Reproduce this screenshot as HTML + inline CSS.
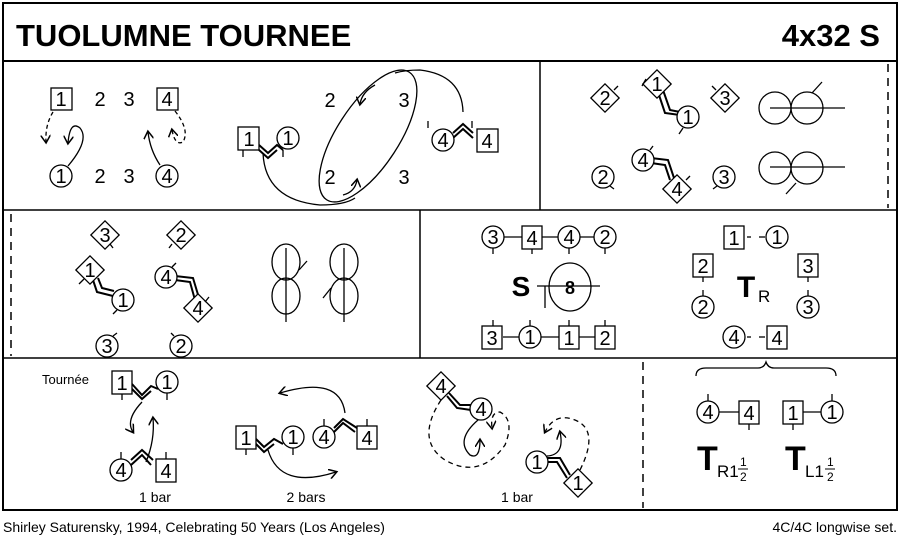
<!DOCTYPE html>
<html><head><meta charset="utf-8"><style>
body{margin:0;background:#fff}
svg{display:block;font-family:"Liberation Sans",sans-serif}
</style></head><body>
<svg width="900" height="542" viewBox="0 0 900 542" xmlns="http://www.w3.org/2000/svg">
<defs>
<marker id="ah" markerWidth="10" markerHeight="10" refX="7" refY="5" orient="auto" markerUnits="userSpaceOnUse"><path d="M0,0 L8,5 L0,10" fill="none" stroke="#000" stroke-width="1.5"/></marker>
</defs>
<g fill="none" stroke="#000" stroke-width="1.5">
<rect x="3" y="3" width="894" height="507" stroke-width="2"/>
<line x1="3" y1="61" x2="897" y2="61" stroke-width="2"/>
<line x1="3" y1="210" x2="897" y2="210"/>
<line x1="3" y1="358" x2="897" y2="358"/>
<line x1="540" y1="61" x2="540" y2="210"/>
<line x1="888" y1="64" x2="888" y2="208" stroke-dasharray="8,6"/>
<line x1="11" y1="214" x2="11" y2="356" stroke-dasharray="8,6"/>
<line x1="420" y1="210" x2="420" y2="358"/>
<line x1="643" y1="362" x2="643" y2="508" stroke-dasharray="8,6"/>
</g>
<text x="16" y="46" font-size="31" font-weight="bold">TUOLUMNE TOURNEE</text>
<text x="880" y="46" font-size="31" font-weight="bold" text-anchor="end">4x32 S</text>

<g fill="none" stroke="#000" stroke-width="1.3">
<!-- row1 connectors under shapes -->
<path d="M259 145 L268 153 L277 145 L283 150 M259 150 L268 158 L277 150" stroke-width="2"/>
<path d="M453 133 L463 124 L473 133 M453 138 L463 129 L473 138" stroke-width="2"/>
<path d="M658 92 L665 113 L680 115 M663 90 L670 110 L680 112" stroke-width="2"/>
<path d="M651 163 L665 165 L670 180 M651 158 L668 160 L674 178" stroke-width="2"/>
<path d="M93 280 L97 292 L113 296 M98 278 L102 288 L114 291" stroke-width="2"/>
<path d="M175 280 L190 282 L195 300 M175 276 L193 278 L199 298" stroke-width="2"/>
<path d="M132 384 L142 395 L151 386 L158 389 M132 389 L142 399 L151 391" stroke-width="2"/>
<path d="M131 465 L142 455 L151 465 M131 460 L142 450 L153 460" stroke-width="2"/>
<path d="M256 439 L264 447 L274 439 L283 444 M256 444 L264 452 L274 444" stroke-width="2"/>
<path d="M334 432 L343 423 L355 432 M334 428 L343 419 L357 428" stroke-width="2"/>
<path d="M447 396 L457 408 L471 410 M449 393 L460 405 L471 405" stroke-width="2"/>
<path d="M547 458 L560 458 L570 475 M547 462 L557 462 L567 478" stroke-width="2"/>
<line x1="503" y1="237" x2="595" y2="237"/>
<line x1="503" y1="337" x2="595" y2="337"/>
<line x1="718" y1="412" x2="739" y2="412"/><line x1="803" y1="412" x2="822" y2="412"/>
</g>
<g fill="#fff" stroke="#000" stroke-width="1.3">
<rect x="51" y="88" width="21" height="22"/><rect x="157" y="88" width="21" height="22"/>
<circle cx="61" cy="176" r="11"/><circle cx="167" cy="176" r="11"/>
<rect x="238" y="127" width="21" height="23"/><circle cx="288" cy="138" r="11"/>
<circle cx="443" cy="140" r="11"/><rect x="477" y="129" width="21" height="23"/>
<rect x="595" y="88" width="20" height="20" transform="rotate(45 605 98)"/>
<rect x="647" y="74" width="20" height="20" transform="rotate(45 657 84)"/>
<circle cx="688" cy="117" r="11"/>
<rect x="715" y="88" width="20" height="20" transform="rotate(45 725 98)"/>
<circle cx="603" cy="177" r="11"/><circle cx="643" cy="160" r="11"/>
<rect x="667" y="179" width="20" height="20" transform="rotate(45 677 189)"/>
<circle cx="724" cy="177" r="11"/>
<rect x="95" y="225" width="20" height="20" transform="rotate(45 105 235)"/>
<rect x="171" y="225" width="20" height="20" transform="rotate(45 181 235)"/>
<rect x="80" y="260" width="20" height="20" transform="rotate(45 90 270)"/>
<circle cx="123" cy="300" r="11"/><circle cx="166" cy="277" r="11"/>
<rect x="188" y="298" width="20" height="20" transform="rotate(45 198 308)"/>
<circle cx="107" cy="346" r="11"/><circle cx="181" cy="346" r="11"/>
<circle cx="493" cy="237" r="11"/><rect x="522" y="226" width="20" height="23"/><circle cx="569" cy="237" r="11"/><circle cx="605" cy="237" r="11"/>
<rect x="482" y="326" width="20" height="23"/><circle cx="530" cy="337" r="11"/><rect x="559" y="326" width="20" height="23"/><rect x="595" y="326" width="20" height="23"/>
<rect x="724" y="226" width="20" height="23"/><circle cx="777" cy="237" r="11"/>
<rect x="693" y="254" width="20" height="23"/><circle cx="703" cy="307" r="11"/>
<rect x="798" y="254" width="20" height="23"/><circle cx="808" cy="307" r="11"/>
<circle cx="734" cy="337" r="11"/><rect x="767" y="326" width="20" height="23"/>
<rect x="112" y="371" width="20" height="23"/><circle cx="167" cy="382" r="11"/>
<circle cx="121" cy="470" r="11"/><rect x="156" y="459" width="20" height="23"/>
<rect x="236" y="426" width="20" height="23"/><circle cx="293" cy="437" r="11"/>
<circle cx="324" cy="437" r="11"/><rect x="357" y="426" width="20" height="23"/>
<rect x="431" y="376" width="20" height="20" transform="rotate(45 441 386)"/>
<circle cx="481" cy="409" r="11"/><circle cx="537" cy="462" r="11"/>
<rect x="568" y="473" width="20" height="20" transform="rotate(45 578 483)"/>
<circle cx="708" cy="412" r="11"/><rect x="739" y="401" width="20" height="23"/>
<rect x="783" y="401" width="20" height="23"/><circle cx="832" cy="412" r="11"/>
</g>
<g fill="none" stroke="#000" stroke-width="1.3">
<path d="M53 112 Q45 125 46 142" stroke-dasharray="4,3" marker-end="url(#ah)"/>
<path d="M68 166 Q90 140 80 128 Q70 120 68 143" marker-end="url(#ah)"/>
<path d="M160 165 Q150 150 148 132" marker-end="url(#ah)"/>
<path d="M175 111 Q190 130 183 142 Q175 146 172 130" stroke-dasharray="4,3" marker-end="url(#ah)"/>
<line x1="243" y1="150" x2="243" y2="157"/><line x1="283" y1="150" x2="283" y2="157"/>
<line x1="428" y1="121" x2="428" y2="128"/><line x1="472" y1="121" x2="472" y2="128"/>
<ellipse cx="368" cy="136" rx="76" ry="31" transform="rotate(-57 368 136)"/>
<path d="M375 85 Q362 92 360 104" marker-end="url(#ah)"/>
<path d="M343 195 Q355 192 357 180" marker-end="url(#ah)"/>
<path d="M263 153 Q265 200 320 205 Q345 205 355 198"/>
<path d="M463 112 Q462 75 420 70 Q405 70 395 73"/>
<line x1="646" y1="79" x2="642" y2="86"/><line x1="683" y1="128" x2="679" y2="134"/>
<line x1="614" y1="90" x2="618" y2="86"/><line x1="716" y1="90" x2="712" y2="86"/>
<line x1="650" y1="150" x2="653" y2="146"/><line x1="686" y1="180" x2="690" y2="176"/>
<line x1="610" y1="186" x2="614" y2="189"/><line x1="717" y1="186" x2="713" y2="189"/>
<circle cx="775" cy="108" r="16"/><circle cx="807" cy="108" r="16"/><line x1="770" y1="108" x2="845" y2="108"/><line x1="812" y1="93" x2="822" y2="82"/>
<circle cx="775" cy="168" r="16"/><circle cx="807" cy="168" r="16"/><line x1="770" y1="167" x2="845" y2="167"/><line x1="796" y1="183" x2="786" y2="194"/>
<line x1="110" y1="244" x2="113" y2="248"/><line x1="172" y1="244" x2="169" y2="248"/>
<line x1="84" y1="279" x2="79" y2="284"/><line x1="117" y1="310" x2="113" y2="314"/>
<line x1="172" y1="267" x2="176" y2="263"/><line x1="205" y1="302" x2="209" y2="297"/>
<line x1="113" y1="336" x2="117" y2="333"/><line x1="174" y1="336" x2="171" y2="333"/>
<ellipse cx="286" cy="262" rx="14" ry="18"/><ellipse cx="286" cy="296" rx="14" ry="18"/><line x1="286" y1="248" x2="286" y2="322"/><line x1="299" y1="270" x2="307" y2="261"/>
<ellipse cx="344" cy="262" rx="14" ry="18"/><ellipse cx="344" cy="296" rx="14" ry="18"/><line x1="344" y1="248" x2="344" y2="322"/><line x1="331" y1="288" x2="323" y2="298"/>
<line x1="493" y1="248" x2="493" y2="254"/><line x1="532" y1="249" x2="532" y2="254"/><line x1="569" y1="248" x2="569" y2="254"/><line x1="605" y1="248" x2="605" y2="254"/>
<line x1="493" y1="320" x2="493" y2="326"/><line x1="530" y1="320" x2="530" y2="326"/><line x1="569" y1="320" x2="569" y2="326"/><line x1="605" y1="320" x2="605" y2="326"/>
<ellipse cx="570" cy="287" rx="21" ry="24"/><line x1="537" y1="286" x2="600" y2="286"/><line x1="545" y1="286" x2="545" y2="308"/>
<line x1="747" y1="237" x2="751" y2="237"/><line x1="759" y1="237" x2="765" y2="237"/>
<line x1="747" y1="337" x2="751" y2="337"/><line x1="759" y1="337" x2="765" y2="337"/>
<line x1="703" y1="277" x2="703" y2="282"/><line x1="703" y1="290" x2="703" y2="296"/>
<line x1="808" y1="277" x2="808" y2="282"/><line x1="808" y1="290" x2="808" y2="296"/>
<line x1="122" y1="394" x2="122" y2="400"/><line x1="167" y1="393" x2="167" y2="400"/>
<path d="M142 402 Q125 420 133 432" marker-end="url(#ah)"/>
<path d="M146 462 Q155 440 153 418" marker-end="url(#ah)"/>
<line x1="121" y1="452" x2="121" y2="459"/><line x1="166" y1="452" x2="166" y2="459"/>
<line x1="246" y1="449" x2="246" y2="455"/><line x1="293" y1="448" x2="293" y2="455"/>
<line x1="324" y1="419" x2="324" y2="426"/><line x1="367" y1="419" x2="367" y2="426"/>
<path d="M345 413 Q340 375 280 393" marker-end="url(#ah)"/>
<path d="M268 450 Q280 490 336 472" marker-end="url(#ah)"/>
<path d="M441 400 Q415 440 445 460 Q480 480 505 445 Q515 420 500 412 Q490 412 492 428" stroke-dasharray="5,4" marker-end="url(#ah)"/>
<path d="M478 420 Q455 440 470 455 Q480 460 480 440" marker-end="url(#ah)"/>
<path d="M580 470 Q600 430 575 420 Q555 412 545 432" stroke-dasharray="5,4" marker-end="url(#ah)"/>
<path d="M547 456 Q565 455 560 432" marker-end="url(#ah)"/>
<path d="M696 376 Q696 368 706 368 L758 368 Q764 368 766 362 Q768 368 774 368 L826 368 Q836 368 836 376"/>
<line x1="708" y1="394" x2="708" y2="401"/><line x1="749" y1="424" x2="749" y2="430"/><line x1="793" y1="424" x2="793" y2="430"/><line x1="832" y1="394" x2="832" y2="401"/>
</g>
<g font-size="20" text-anchor="middle">
<text x="61" y="106">1</text><text x="100" y="106">2</text><text x="129" y="106">3</text><text x="167" y="106">4</text>
<text x="61" y="183">1</text><text x="100" y="183">2</text><text x="129" y="183">3</text><text x="167" y="183">4</text>
<text x="249" y="146">1</text><text x="288" y="145">1</text><text x="443" y="147">4</text><text x="487" y="148">4</text>
<text x="330" y="107">2</text><text x="404" y="107">3</text><text x="330" y="184">2</text><text x="404" y="184">3</text>
<text x="605" y="105">2</text><text x="657" y="91">1</text><text x="688" y="124">1</text><text x="725" y="105">3</text>
<text x="603" y="184">2</text><text x="643" y="167">4</text><text x="677" y="196">4</text><text x="724" y="184">3</text>
<text x="105" y="242">3</text><text x="181" y="242">2</text><text x="90" y="277">1</text><text x="123" y="307">1</text>
<text x="166" y="284">4</text><text x="198" y="315">4</text><text x="107" y="353">3</text><text x="181" y="353">2</text>
<text x="493" y="244">3</text><text x="532" y="245">4</text><text x="569" y="244">4</text><text x="605" y="244">2</text>
<text x="492" y="345">3</text><text x="530" y="344">1</text><text x="569" y="345">1</text><text x="605" y="345">2</text>
<text x="734" y="245">1</text><text x="777" y="244">1</text><text x="703" y="273">2</text><text x="703" y="314">2</text>
<text x="808" y="273">3</text><text x="808" y="314">3</text><text x="734" y="344">4</text><text x="777" y="345">4</text>
<text x="122" y="390">1</text><text x="167" y="389">1</text><text x="121" y="477">4</text><text x="166" y="478">4</text>
<text x="246" y="445">1</text><text x="293" y="444">1</text><text x="324" y="444">4</text><text x="367" y="445">4</text>
<text x="441" y="393">4</text><text x="481" y="416">4</text><text x="537" y="469">1</text><text x="578" y="490">1</text>
<text x="708" y="419">4</text><text x="749" y="420">4</text><text x="793" y="420">1</text><text x="832" y="419">1</text>
</g>
<text x="521" y="296" font-size="28" font-weight="bold" text-anchor="middle">S</text>
<text x="570" y="294" font-size="18" font-weight="bold" text-anchor="middle">8</text>
<text x="746" y="297" font-size="30" font-weight="bold" text-anchor="middle">T</text>
<text x="758" y="302" font-size="17">R</text>
<text x="42" y="384" font-size="13">Tournée</text>
<text x="155" y="502" font-size="14" text-anchor="middle">1 bar</text>
<text x="306" y="502" font-size="14" text-anchor="middle">2 bars</text>
<text x="517" y="502" font-size="14" text-anchor="middle">1 bar</text>
<text x="697" y="470" font-size="34" font-weight="bold">T</text>
<text x="717" y="477" font-size="17">R1</text>
<text x="740" y="466" font-size="12">1</text><line x1="738" y1="469" x2="748" y2="469" stroke="#000"/><text x="740" y="481" font-size="12">2</text>
<text x="785" y="470" font-size="34" font-weight="bold">T</text>
<text x="805" y="477" font-size="17">L1</text>
<text x="827" y="466" font-size="12">1</text><line x1="825" y1="469" x2="835" y2="469" stroke="#000"/><text x="827" y="481" font-size="12">2</text>
<text x="3" y="532" font-size="14">Shirley Saturensky, 1994, Celebrating 50 Years (Los Angeles)</text>
<text x="897" y="532" font-size="14" text-anchor="end">4C/4C longwise set.</text>
</svg>
</body></html>
